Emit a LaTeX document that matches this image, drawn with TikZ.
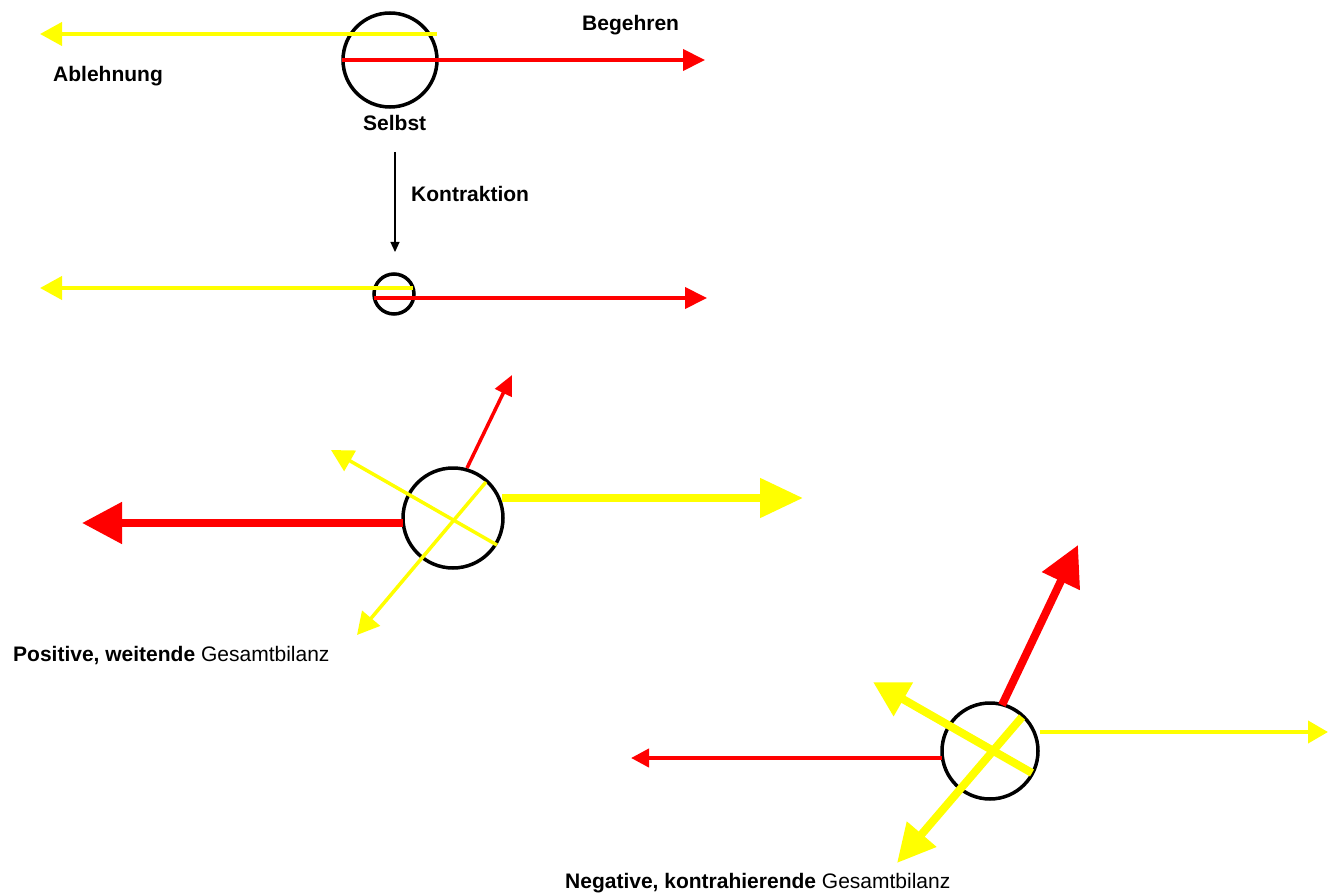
\documentclass[tikz,border=0pt]{standalone}
\usepackage{fontspec}
\setmainfont{Liberation Sans}
\usetikzlibrary{arrows.meta}
\definecolor{yel}{RGB}{255,255,0}
\definecolor{rd}{RGB}{255,0,0}
\begin{document}
\begin{tikzpicture}[x=1pt,y=-1pt,
  self/.style={circle,draw=black,line width=3.5pt,inner sep=0pt,minimum size=#1},
  lbl/.style={anchor=base west,inner sep=0pt,font=\fontsize{21}{25}\selectfont},
  ythin/.style={draw=yel,line width=4pt,-{Triangle[length=22pt,width=23pt]}},
  rthin/.style={draw=rd,line width=4pt,-{Triangle[length=22pt,width=21pt]}},
  ythick/.style={draw=yel,line width=8pt,-{Triangle[length=40pt,width=38pt]}},
  rthick/.style={draw=rd,line width=8pt,-{Triangle[length=40pt,width=40pt]}},
  contr/.style={draw=black,line width=1.2pt,-{Triangle[length=10pt,width=9pt]}}
]
\useasboundingbox (0,0) rectangle (1336,896);

% ---------- Group 1 ----------
\node[self=94pt] (selbst) at (390,60) {};
\coordinate (y1s) at (437,34); \coordinate (y1e) at (40,34);
\coordinate (r1s) at (342,60); \coordinate (r1e) at (705,60);
\draw[ythin] (y1s) -- (y1e);
\draw[rthin] (r1s) -- (r1e);
\node[lbl] (beg) at (582,31) {\bfseries Begehren};
\node[lbl] (abl) at (53,82) {\bfseries Ablehnung};
\node[lbl] (selbstl) at (363,131) {\bfseries Selbst};
\node[lbl] (kon) at (411,202) {\bfseries Kontraktion};
\coordinate (ks) at (395,152); \coordinate (ke) at (395,252);
\draw[contr] (ks) -- (ke);

% ---------- Group 2 ----------
\node[self=40pt] (klein) at (394,294) {};
\coordinate (y2s) at (413,288); \coordinate (y2e) at (40,288);
\coordinate (r2s) at (374,298); \coordinate (r2e) at (707,298);
\draw[ythin] (y2s) -- (y2e);
\draw[rthin] (r2s) -- (r2e);

% ---------- Group 3 ----------
\node[self=100pt] (pos) at (453,518) {};
\coordinate (r3as) at (403,523); \coordinate (r3ae) at (82,523);
\coordinate (y3as) at (502,498); \coordinate (y3ae) at (803,498);
\coordinate (r3bs) at (467,468); \coordinate (r3be) at (512,375);
\coordinate (y3bs) at (497,545); \coordinate (y3be) at (331,450);
\coordinate (y3cs) at (486,482); \coordinate (y3ce) at (357,635);
\draw[rthick] (r3as) -- (r3ae);
\draw[ythick,-{Triangle[length=43pt,width=38pt]}] (y3as) -- (y3ae);
\draw[rthin,line width=3.5pt,-{Triangle[length=20pt,width=18pt]}] (r3bs) -- (r3be);
\draw[ythin,line width=3.5pt] (y3bs) -- (y3be);
\draw[ythin,line width=3.5pt] (y3cs) -- (y3ce);
\node[lbl] (poslbl) at (13,661) {\textbf{Positive, weitende} Gesamtbilanz};

% ---------- Group 4 ----------
\node[self=96pt] (neg) at (990,751) {};
\coordinate (r4as) at (942,758); \coordinate (r4ae) at (631,758);
\coordinate (y4as) at (1040,732); \coordinate (y4ae) at (1328,732);
\coordinate (r4bs) at (1002,705); \coordinate (r4be) at (1078,545);
\coordinate (y4bs) at (1032,773); \coordinate (y4be) at (873,682);
\coordinate (y4cs) at (1022,717); \coordinate (y4ce) at (897,863);
\draw[rthin,-{Triangle[length=18pt,width=18pt]}] (r4as) -- (r4ae);
\draw[ythin,-{Triangle[length=20pt,width=22pt]}] (y4as) -- (y4ae);
\draw[rthick] (r4bs) -- (r4be);
\draw[ythick,-{Triangle[length=35pt,width=37pt]}] (y4bs) -- (y4be);
\draw[ythick,-{Triangle[length=38pt,width=37pt]}] (y4cs) -- (y4ce);
\node[lbl] (neglbl) at (565,888) {\textbf{Negative, kontrahierende} Gesamtbilanz};
\end{tikzpicture}
\end{document}
